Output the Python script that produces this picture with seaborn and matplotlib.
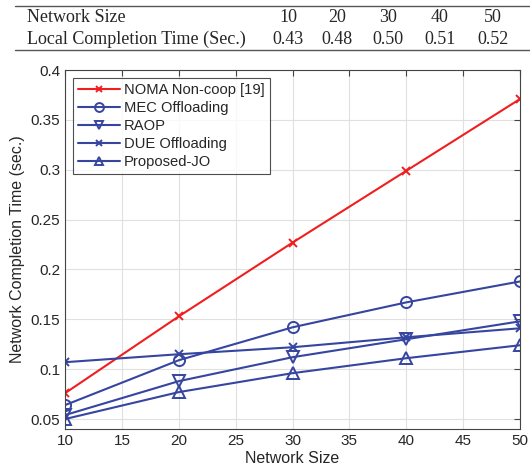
import matplotlib
matplotlib.use("Agg")
import matplotlib.pyplot as plt
import seaborn as sns
import pandas as pd

sizes = [10, 20, 30, 40, 50]
local_time = ["0.43", "0.48", "0.50", "0.51", "0.52"]
noma = [0.076, 0.153, 0.227, 0.299, 0.371]
mec = [0.064, 0.109, 0.142, 0.167, 0.188]
raop = [0.054, 0.088, 0.112, 0.130, 0.148]
due = [0.107, 0.115, 0.122, 0.132, 0.141]
prop = [0.050, 0.077, 0.096, 0.111, 0.124]
names = ["NOMA Non-coop [19]", "MEC Offloading", "RAOP", "DUE Offloading", "Proposed-JO"]
xticks = [10, 15, 20, 25, 30, 35, 40, 45, 50]
yticks = [0.05, 0.1, 0.15, 0.2, 0.25, 0.3, 0.35, 0.4]
ytick_labels = ["0.05", "0.1", "0.15", "0.2", "0.25", "0.3", "0.35", "0.4"]

sns.set_style("white")
plt.rcParams['font.family'] = ['Liberation Sans', 'DejaVu Sans']

rows = []
for n, vals in zip(names, [noma, mec, raop, due, prop]):
    for x, v in zip(sizes, vals):
        rows.append({"Network Size": x, "Time": v, "Scheme": n})
df = pd.DataFrame(rows)

blue = "#3545a0"
red = "#f01e1e"
palette = {names[0]: red, names[1]: blue, names[2]: blue, names[3]: blue, names[4]: blue}
markers = {names[0]: "x", names[1]: "o", names[2]: "v", names[3]: "x", names[4]: "^"}
msizes = {names[0]: 6, names[1]: 8, names[2]: 8, names[3]: 6, names[4]: 8}

fig = plt.figure(figsize=(5.3, 4.74), dpi=100)
ax = fig.add_axes([0.123, 0.095, 0.858, 0.757])

for n in names:
    sub = df[df["Scheme"] == n]
    sns.lineplot(data=sub, x="Network Size", y="Time", ax=ax, color=palette[n],
                 marker=markers[n], markersize=msizes[n], linewidth=1.5,
                 markerfacecolor="none" if markers[n] != "x" else palette[n],
                 markeredgecolor=palette[n], markeredgewidth=1.4, label=n)

ax.set_xlim(10, 50)
ax.set_ylim(0.04, 0.4)
ax.set_xticks(xticks)
ax.set_yticks(yticks)
ax.set_yticklabels(ytick_labels)
ax.grid(True, color="#e0e0e0", linewidth=0.8)
ax.tick_params(direction="in", top=True, right=True, length=4, labelsize=11, color="#444444")
for s in ax.spines.values():
    s.set_color("#444444")
    s.set_linewidth(0.8)
ax.set_xlabel("Network Size", fontsize=11.5, labelpad=2)
ax.set_ylabel("Network Completion Time (sec.)", fontsize=11.5)

leg = ax.legend(loc="upper left", fontsize=10.6, frameon=True, fancybox=False,
                edgecolor="#222222", handlelength=2.9, borderaxespad=0.5,
                labelspacing=0.28, handletextpad=0.25, borderpad=0.35, markerscale=0.8)
leg.get_frame().set_linewidth(0.8)

# Table above the plot
serif = ['Liberation Serif', 'DejaVu Serif']
fig.add_artist(plt.Line2D([15/530, 1.0], [1 - 6/474, 1 - 6/474], color="#555555", lw=1.0))
fig.add_artist(plt.Line2D([15/530, 1.0], [1 - 50/474, 1 - 50/474], color="#555555", lw=1.0))
fig.text(27/530, 1 - 17/474, "Network Size", family=serif, fontsize=13, va="center")
fig.text(27/530, 1 - 39/474, "Local Completion Time (Sec.)", family=serif, fontsize=13, va="center")
col_x = [288, 337, 388, 440, 493]
for cx, s, t in zip(col_x, sizes, local_time):
    fig.text(cx/530, 1 - 17/474, str(s), family=serif, fontsize=13, va="center", ha="center")
    fig.text(cx/530, 1 - 39/474, t, family=serif, fontsize=13, va="center", ha="center")

fig.savefig("out.png", dpi=100)
